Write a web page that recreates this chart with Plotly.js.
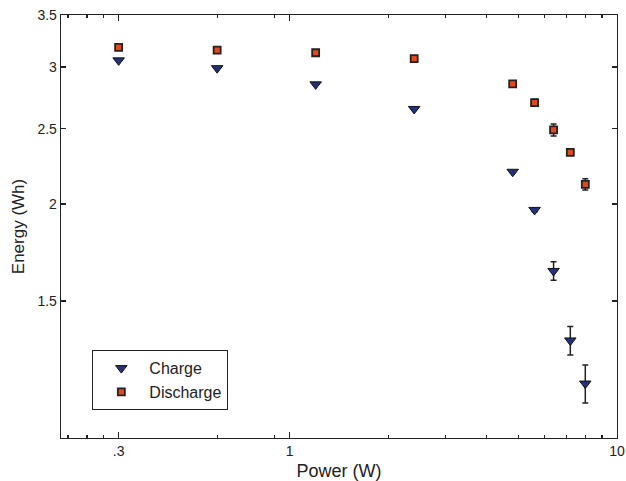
<!DOCTYPE html>
<html><head><meta charset="utf-8">
<script src="https://cdn.plot.ly/plotly-3.0.1.min.js"></script>
<style>html,body{margin:0;padding:0;background:#fff}#chart{width:626px;height:481px}</style>
</head><body><div id="chart"></div>
<script>
const chargePower = [0.3, 0.6, 1.2, 2.4, 4.8, 5.6, 6.4, 7.2, 8.0];
const chargeEnergy = [3.06, 2.99, 2.85, 2.65, 2.20, 1.965, 1.64, 1.335, 1.175];
const chargeErr = [0, 0, 0, 0, 0, 0.01, 0.045, 0.056, 0.066];
const dischargePower = [0.3, 0.6, 1.2, 2.4, 4.8, 5.6, 6.4, 7.2, 8.0];
const dischargeEnergy = [3.18, 3.155, 3.13, 3.075, 2.855, 2.70, 2.49, 2.33, 2.12];
const dischargeErr = [0, 0, 0, 0, 0, 0.025, 0.044, 0.02, 0.035];
const xTickVals = [0.3, 1, 10];
const xTickText = ['.3', '1', '10'];
const xMinorVals = [0.21, 0.24, 0.27, 0.6, 0.9, 2, 3, 4, 5, 6, 7, 8, 9];
const yTickVals = [1.5, 2, 2.5, 3, 3.5];
const yTickText = ['1.5', '2', '2.5', '3', '3.5'];

const font = 'Liberation Sans, Arial, sans-serif';
const traces = [
  {x: chargePower, y: chargeEnergy, name: 'Charge', type: 'scatter', mode: 'markers',
   marker: {symbol: 'triangle-down', size: 10, color: '#23307a', line: {color: '#111', width: 1}},
   error_y: {type: 'data', array: chargeErr, visible: true, color: '#222', thickness: 1.5, width: 3}},
  {x: dischargePower, y: dischargeEnergy, name: 'Discharge', type: 'scatter', mode: 'markers',
   marker: {symbol: 'square', size: 7, color: '#e84818', line: {color: '#222', width: 1.8}},
   error_y: {type: 'data', array: dischargeErr, visible: true, color: '#222', thickness: 1.5, width: 3}}
];
const axisCommon = {showgrid: false, zeroline: false, showline: true, mirror: 'ticks', linecolor: '#222', linewidth: 1.3,
  ticks: 'inside', tickcolor: '#222', tickwidth: 1.3, tickfont: {family: font, size: 14, color: '#222'}};
const layout = {
  width: 626, height: 481,
  margin: {l: 61, r: 9, t: 15, b: 43},
  paper_bgcolor: '#fff', plot_bgcolor: '#fff',
  showlegend: true,
  legend: {x: 0.056, y: 0.208, xanchor: 'left', yanchor: 'top', bgcolor: '#fff', bordercolor: '#222', borderwidth: 1.2,
    itemwidth: 46, font: {family: font, size: 16, color: '#222'}},
  xaxis: Object.assign({}, axisCommon, {type: 'log', range: [Math.log10(0.2), 1], tickmode: 'array', tickvals: xTickVals, ticktext: xTickText, ticklen: 6,
    minor: {tickmode: 'array', tickvals: xMinorVals, ticks: 'inside', ticklen: 3, tickcolor: '#222', tickwidth: 1.2},
    title: {text: 'Power (W)', font: {family: font, size: 18, color: '#222'}, standoff: 6}}),
  yaxis: Object.assign({}, axisCommon, {type: 'log', range: [0, Math.log10(3.5)], tickmode: 'array', tickvals: yTickVals, ticktext: yTickText, ticklen: 5,
    title: {text: 'Energy (Wh)', font: {family: font, size: 17, color: '#222'}, standoff: 8}})
};
Plotly.newPlot('chart', traces, layout, {staticPlot: true});
</script></body></html>
